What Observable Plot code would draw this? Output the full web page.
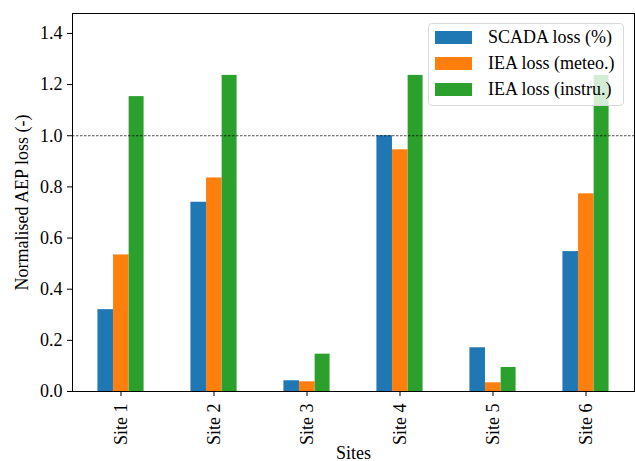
<!DOCTYPE html>
<html>
<head>
<meta charset="utf-8">
<script src="https://cdn.jsdelivr.net/npm/d3@7"></script>
<script src="https://cdn.jsdelivr.net/npm/@observablehq/plot@0.6"></script>
<style>
  html, body { margin: 0; padding: 0; background: #fff; }
  #wrap { position: relative; width: 635px; height: 461px; font-family: "Liberation Serif", "DejaVu Serif", serif; }
  #legend {
    position: absolute; left: 428px; top: 23px; width: 196px; height: 83px;
    background: rgba(255,255,255,0.8); border: 1px solid #d9d9d9; border-radius: 4px;
    box-sizing: border-box; font-size: 18px; color: #000;
  }
  .row { position: absolute; left: 6px; height: 22px; display: flex; align-items: center; white-space: nowrap; }
  .sw { width: 37px; height: 13px; margin-right: 16px; flex: none; }
</style>
</head>
<body>
<div id="wrap">
  <div id="chart"></div>
  <div id="legend"></div>
</div>
<script>
const sites = ["Site 1", "Site 2", "Site 3", "Site 4", "Site 5", "Site 6"];
const seriesNames = ["SCADA loss (%)", "IEA loss (meteo.)", "IEA loss (instru.)"];
const seriesColors = ["#1f77b4", "#ff7f0e", "#2ca02c"];
const scadaLoss = [0.320, 0.740, 0.042, 1.000, 0.171, 0.547];
const ieaMeteo = [0.534, 0.835, 0.038, 0.945, 0.034, 0.773];
const ieaInstru = [1.153, 1.236, 0.146, 1.236, 0.094, 1.236];
const yTicks = [0, 0.2, 0.4, 0.6, 0.8, 1.0, 1.2, 1.4];
const refLine = [1.0];

const seriesValues = [scadaLoss, ieaMeteo, ieaInstru];

const W = 635, H = 461, mL = 72, mR = 1, mT = 13, mB = 70;
const bw = (W - mL - mR) / sites.length;   // band width in px
const barW = bw / 6;                      // 3 bars fill half the band

const font = "Liberation Serif, DejaVu Serif, serif";
const barMarks = seriesNames.map((n, j) => {
  const data = sites.map((s, i) => ({site: s, series: n, value: seriesValues[j][i]}));
  const left = bw * 0.25 + j * barW;
  const overlap = j < seriesNames.length - 1 ? 0.6 : 0;
  return Plot.barY(data, {x: "site", y: "value", fill: seriesColors[j],
    insetLeft: left, insetRight: bw - left - barW - overlap});
});

const chart = Plot.plot({
  width: W,
  height: H,
  marginLeft: mL,
  marginRight: mR,
  marginTop: mT,
  marginBottom: mB,
  style: {fontFamily: font, fontSize: "18px", color: "#000", background: "#fff"},
  x: {domain: sites, paddingInner: 0, paddingOuter: 0, axis: null},
  y: {domain: [0, 1.478], axis: null},
  marks: [
    ...barMarks,
    Plot.ruleY(refLine, {stroke: "#000", strokeWidth: 0.7, strokeDasharray: "2.5,1.5"}),
    Plot.axisY({ticks: yTicks, tickFormat: d3.format(".1f"), tickSize: 5, tickPadding: 5,
      label: "Normalised AEP loss (-)", labelAnchor: "center", labelOffset: 57, labelArrow: "none"}),
    Plot.axisX({anchor: "bottom", tickSize: 5, tickRotate: -90, tickPadding: 7, label: "Sites",
      labelAnchor: "center", labelOffset: 67, labelArrow: "none"}),
    Plot.frame({stroke: "#000", strokeWidth: 1})
  ]
});
document.getElementById("chart").appendChild(chart);

const legend = document.getElementById("legend");
seriesNames.forEach((n, j) => {
  const row = document.createElement("div");
  row.className = "row";
  row.style.top = (2 + j * 26) + "px";
  const sw = document.createElement("div");
  sw.className = "sw";
  sw.style.background = seriesColors[j];
  const t = document.createElement("span");
  t.textContent = n;
  row.appendChild(sw); row.appendChild(t);
  legend.appendChild(row);
});
</script>
</body>
</html>
